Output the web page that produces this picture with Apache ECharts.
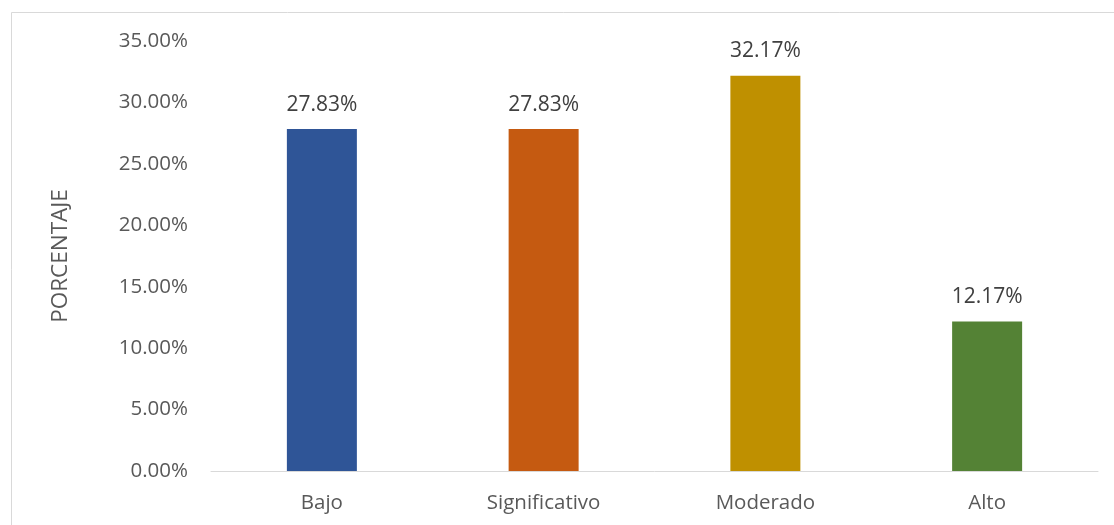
<!DOCTYPE html>
<html>
<head>
<meta charset="utf-8">
<script src="https://cdn.jsdelivr.net/npm/echarts@6/dist/echarts.min.js"></script>
<style>
html,body{margin:0;padding:0;background:#fff;}
#chart{width:1114px;height:525px;}
</style>
</head>
<body>
<div id="chart"></div>
<script>
const categories = ["Bajo", "Significativo", "Moderado", "Alto"];
const values = [27.83, 27.83, 32.17, 12.17];
const barColors = ["#2F5597", "#C55A11", "#BF9000", "#548235"];
const yAxisName = "PORCENTAJE";

const FONT = "'Open Sans', 'Liberation Sans', sans-serif";
const chart = echarts.init(document.getElementById('chart'), null, {renderer: 'canvas'});
chart.setOption({
  animation: false,
  backgroundColor: '#ffffff',
  graphic: [{
    type: 'rect',
    shape: {x: 11.5, y: 12.5, width: 1200, height: 700},
    style: {fill: 'none', stroke: '#d9d9d9', lineWidth: 1},
    z: -1
  }],
  grid: {left: 211, right: 16, top: 41, bottom: 54},
  xAxis: {
    type: 'category',
    data: categories,
    axisLine: {show: true, lineStyle: {color: '#d9d9d9', width: 1}},
    axisTick: {show: false},
    axisLabel: {color: '#595959', fontFamily: FONT, fontSize: 20.5, margin: 22}
  },
  yAxis: {
    type: 'value',
    min: 0, max: 35, interval: 5,
    name: yAxisName,
    nameLocation: 'middle',
    nameGap: 139,
    nameRotate: 90,
    nameTextStyle: {color: '#595959', fontFamily: FONT, fontSize: 22.5},
    axisLine: {show: false},
    axisTick: {show: false},
    splitLine: {show: false},
    axisLabel: {
      color: '#595959', fontFamily: FONT, fontSize: 20.5, margin: 23,
      formatter: v => v.toFixed(2) + '%'
    }
  },
  series: [{
    type: 'bar',
    barWidth: 70,
    data: values.map((v, i) => ({value: v, itemStyle: {color: barColors[i]}})),
    label: {
      show: true, position: 'top', distance: 14,
      color: '#404040', fontFamily: FONT, fontSize: 21,
      formatter: p => p.value.toFixed(2) + '%'
    }
  }]
});
</script>
</body>
</html>
